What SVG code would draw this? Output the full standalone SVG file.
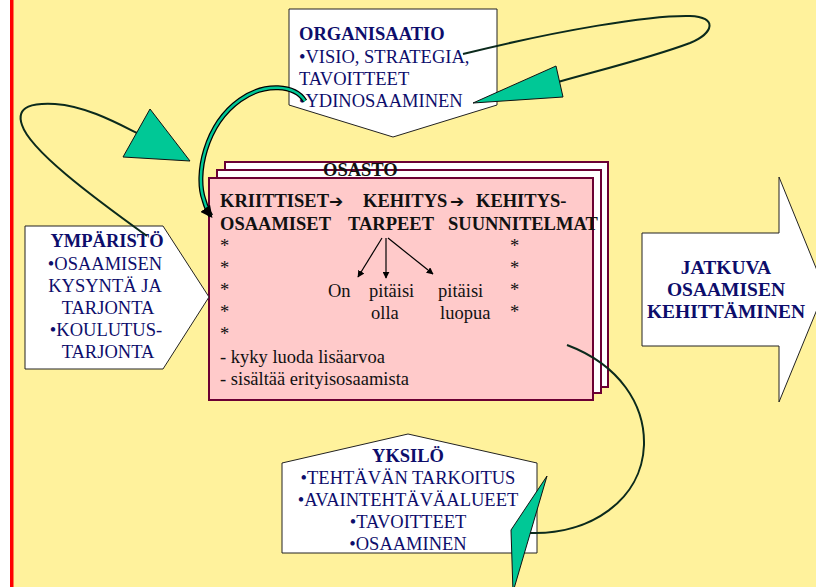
<svg xmlns="http://www.w3.org/2000/svg" width="816" height="587" viewBox="0 0 816 587">
<defs>
<style>
.t{font-family:'Liberation Serif','DejaVu Serif',serif;font-size:18.5px;fill:#0d0d6b}
.b{font-weight:bold}
.k{font-family:'Liberation Serif','DejaVu Serif',serif;font-size:18.5px;fill:#111}
.ar{font-family:'DejaVu Sans',sans-serif;font-size:17px}
.shape{fill:#fff;stroke:#222;stroke-width:1}
.sheet{stroke:#6b0033;stroke-width:2}
.tri{fill:#00c896;stroke:#111;stroke-width:1}
.loop{fill:none;stroke:#0b2a1c;stroke-width:2}
</style>
<marker id="sa" viewBox="0 0 10 10" refX="9" refY="5" markerWidth="7" markerHeight="7" orient="auto" markerUnits="userSpaceOnUse">
<path d="M0,0 L10,5 L0,10 z" fill="#000"/>
</marker>
<marker id="ba" viewBox="0 0 10 10" refX="8" refY="5" markerWidth="12" markerHeight="12" orient="auto" markerUnits="userSpaceOnUse">
<path d="M0,0 L10,5 L0,10 z" fill="#000"/>
</marker>
</defs>
<rect x="0" y="0" width="816" height="587" fill="#fff"/>
<rect x="10" y="0" width="806" height="587" fill="#fff29c"/>
<rect x="10" y="0" width="3.5" height="587" fill="#f00"/>

<g id="organisaatio">
<polygon class="shape" points="289,9 497,9 497,105 393,137 289,105"/>
<text class="t b" x="299" y="40">ORGANISAATIO</text>
<text class="t" x="299" y="63">•VISIO, STRATEGIA,</text>
<text class="t" x="299" y="85">TAVOITTEET</text>
<text class="t" x="299" y="107">•YDINOSAAMINEN</text>
</g>

<g id="osasto">
<rect class="sheet" x="225" y="162" width="383" height="225" fill="#fff"/>
<rect class="sheet" x="217" y="170" width="384" height="223" fill="#fff"/>
<rect class="sheet" x="209" y="178" width="384" height="222" fill="#ffcaca"/>
<text class="k b" x="323" y="176">OSASTO</text>
<text class="k b" y="207"><tspan x="220">KRIITTISET</tspan><tspan class="ar" x="329">➔ </tspan><tspan x="363">KEHITYS</tspan><tspan class="ar" x="450">➔ </tspan><tspan x="476">KEHITYS-</tspan></text>
<text class="k b" y="230"><tspan x="220">OSAAMISET </tspan><tspan x="348">TARPEET </tspan><tspan x="448">SUUNNITELMAT</tspan></text>
<text class="k" x="220" y="252">*</text>
<text class="k" x="220" y="274">*</text>
<text class="k" x="220" y="296">*</text>
<text class="k" x="220" y="318">*</text>
<text class="k" x="220" y="340">*</text>
<text class="k" x="510" y="252">*</text>
<text class="k" x="510" y="274">*</text>
<text class="k" x="510" y="296">*</text>
<text class="k" x="510" y="318">*</text>
<text class="k" x="328" y="297">On</text>
<text class="k" x="369" y="297">pitäisi</text>
<text class="k" x="371" y="319">olla</text>
<text class="k" x="438" y="297">pitäisi</text>
<text class="k" x="440" y="319">luopua</text>
<text class="k" x="220" y="363">- kyky luoda lisäarvoa</text>
<text class="k" x="220" y="385">- sisältää erityisosaamista</text>
<g stroke="#000" stroke-width="1.2" fill="none">
<line x1="382" y1="238" x2="358" y2="277" marker-end="url(#sa)"/>
<line x1="386" y1="238" x2="386" y2="278" marker-end="url(#sa)"/>
<line x1="388" y1="238" x2="433" y2="274" marker-end="url(#sa)"/>
</g>
</g>

<g id="ymparisto">
<polygon class="shape" points="25,226 163,226 209,297 163,369 25,369"/>
<g class="t" text-anchor="middle">
<text class="b" x="107" y="247">YMPÄRISTÖ</text>
<text x="105" y="270">•OSAAMISEN</text>
<text x="105" y="292">KYSYNTÄ JA</text>
<text x="108" y="314">TARJONTA</text>
<text x="106" y="336">•KOULUTUS-</text>
<text x="108" y="358">TARJONTA</text>
</g>
</g>

<g id="jatkuva">
<polygon class="shape" points="642,233 779,233 779,177 825,290 779,402 779,346 642,346"/>
<g class="t b" text-anchor="middle" style="font-size:19.5px">
<text x="726" y="274">JATKUVA</text>
<text x="726" y="296">OSAAMISEN</text>
<text x="726" y="318">KEHITTÄMINEN</text>
</g>
</g>

<g id="yksilo">
<polygon class="shape" points="408,434 537,463 537,553 282,553 282,463"/>
<g class="t" text-anchor="middle">
<text class="b" x="408" y="462">YKSILÖ</text>
<text x="408" y="484">•TEHTÄVÄN TARKOITUS</text>
<text x="408" y="506">•AVAINTEHTÄVÄALUEET</text>
<text x="408" y="528">•TAVOITTEET</text>
<text x="408" y="550">•OSAAMINEN</text>
</g>
</g>

<g id="connectors">
<path class="loop" d="M463,54 C560,30 650,15 690,16 C718,17 714,33 690,43 C650,58 600,70 558,82"/>
<polygon class="tri" points="556,66 563,97 473,103"/>
<path class="loop" d="M147,236 C90,195 30,150 22,125 C15,105 35,103 55,104 C85,106 115,122 137,133"/>
<polygon class="tri" points="150,109 123,157 190,161"/>
<path d="M305,101 C295,85 265,82 240,100 C205,125 195,175 204,200 C206,207 208,212 211,216" fill="none" stroke="#000" stroke-width="5"/>
<path d="M305,101 C295,85 265,82 240,100 C205,125 195,175 204,200 C206,207 208,212 211,216" fill="none" stroke="#00c896" stroke-width="2.5" marker-end="url(#ba)"/>
<path class="loop" d="M567,345 C620,365 645,405 644,445 C642,500 590,535 530,533"/>
<polygon class="tri" points="547,476 511,530 513,592"/>
</g>
</svg>
